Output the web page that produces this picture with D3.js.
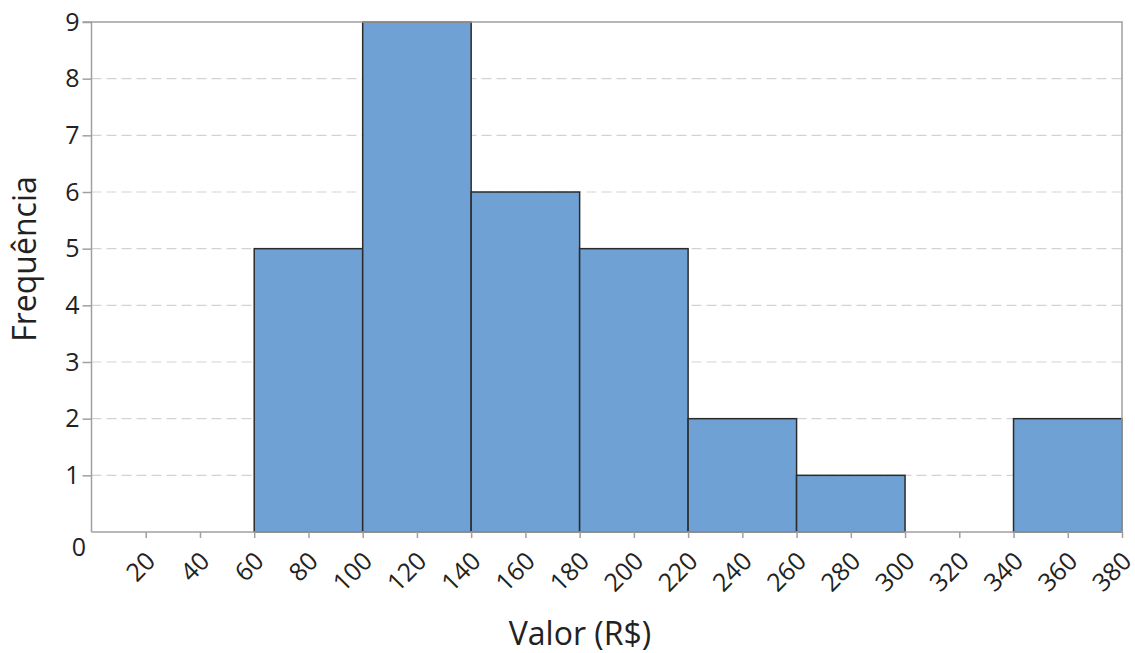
<!DOCTYPE html>
<html><head><meta charset="utf-8">
<script src="https://cdn.jsdelivr.net/npm/d3@7"></script>
<style>body{margin:0;background:#fff}svg{display:block}text{font-family:"Open Sans",sans-serif;fill:#222}</style>
</head><body><svg id="c" width="1135" height="653"></svg>
<script>
const binStarts = [60, 100, 140, 180, 220, 260, 300, 340];
const binWidth = 40;
const frequencies = [5, 9, 6, 5, 2, 1, 0, 2];
const xTicks = [20,40,60,80,100,120,140,160,180,200,220,240,260,280,300,320,340,360,380];
const yTicks = [1,2,3,4,5,6,7,8,9];

const svg = d3.select("#c");
const L = 91.5, R = 1122, T = 22, B = 532;
const x = d3.scaleLinear().domain([0, 380]).range([L, R]);
const y = d3.scaleLinear().domain([0, 9]).range([B, T]);

// grid
svg.append("g").selectAll("line").data(yTicks.slice(0, -1)).join("line")
  .attr("x1", L).attr("x2", R).attr("y1", d => y(d)).attr("y2", d => y(d))
  .attr("stroke", "#d3d3d3").attr("stroke-width", 1.2).attr("stroke-dasharray", "10,5");

// bars
svg.append("g").selectAll("rect").data(binStarts.map((s, i) => ({s, v: frequencies[i]})).filter(d => d.v > 0)).join("rect")
  .attr("x", d => x(d.s)).attr("width", d => x(d.s + binWidth) - x(d.s))
  .attr("y", d => y(d.v)).attr("height", d => y(0) - y(d.v))
  .attr("fill", "#6fa1d4").attr("stroke", "#2b2b2b").attr("stroke-width", 1.5);

// frame (top & right)
svg.append("path").attr("d", `M${L},${T}H${R}V${B}`).attr("fill", "none").attr("stroke", "#a0a0a0").attr("stroke-width", 1.5);

// y axis
const ya = svg.append("g").attr("transform", `translate(${L},0)`)
  .call(d3.axisLeft(y).tickValues(yTicks).tickSize(9).tickPadding(3).tickFormat(d3.format("d")));
ya.select(".domain").attr("stroke", "#a0a0a0").attr("stroke-width", 1.5).attr("d", `M-9,${T}H0V${B}`);
ya.selectAll(".tick line").attr("stroke", "#a0a0a0").attr("stroke-width", 1.5);
ya.selectAll(".tick text").attr("font-size", 25).attr("font-family", "Open Sans").attr("fill", "#222");

// zero label
svg.append("text").attr("x", 86).attr("y", 549).attr("text-anchor", "end").attr("dominant-baseline", "middle")
  .attr("font-size", 25).text("0");

// x axis
const xa = svg.append("g").attr("transform", `translate(0,${B})`)
  .call(d3.axisBottom(x).tickValues(xTicks).tickSize(6).tickFormat(d3.format("d")));
xa.select(".domain").attr("stroke", "#a0a0a0").attr("stroke-width", 1.5).attr("d", `M${L},0H${R}`);
xa.selectAll(".tick line").attr("stroke", "#a0a0a0").attr("stroke-width", 1.5);
xa.selectAll(".tick text").attr("font-size", 25).attr("font-family", "Open Sans").attr("fill", "#222")
  .attr("text-anchor", "end").attr("dy", null).attr("y", 0)
  .attr("transform", "translate(6,26) rotate(-45)").attr("dominant-baseline", "middle");

// titles
svg.append("text").attr("x", 580).attr("y", 645).attr("text-anchor", "middle").attr("font-size", 32).text("Valor (R$)");
svg.append("text").attr("transform", "translate(36,259) rotate(-90)").attr("text-anchor", "middle").attr("font-size", 32).text("Frequência");
</script></body></html>
